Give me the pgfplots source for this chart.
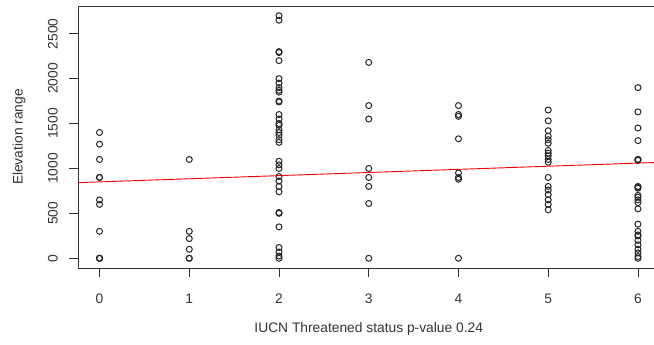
\documentclass[border=0pt]{standalone}
\usepackage{pgfplots}
\pgfplotsset{compat=1.18}
\usepackage{fontspec}
\setmainfont{Liberation Sans}
\begin{document}
\fontsize{13.8bp}{16bp}\selectfont
\begin{tikzpicture}
\begin{axis}[
  scale only axis, width=581.5bp, height=262bp,
  xmin=-0.24, xmax=6.24, ymin=-108, ymax=2808,
  axis line style={draw=black!80, line width=0.8bp},
  tick pos=left, tick align=outside,
  major tick length=9bp,
  every tick/.style={draw=black!80, line width=0.8bp},
  xtick={0,1,2,3,4,5,6},
  ytick={0,500,1000,1500,2000,2500},
  /pgf/number format/assume math mode=true,
  /pgf/number format/1000 sep={},
  tick label style={font=\fontsize{13.8bp}{16bp}\selectfont, text=black!80},
  yticklabel style={rotate=90, anchor=south, inner sep=0pt, yshift=11bp},
  xticklabel style={anchor=north, inner sep=0pt, yshift=-17bp},
  xlabel={IUCN Threatened status p-value 0.24},
  label style={font=\fontsize{13.8bp}{16bp}\selectfont, text=black!80},
  xlabel style={at={(axis description cs:0.5,-0.233)}, anchor=center},
  clip=false,
]
\addplot[only marks, mark=o, mark size=3bp, draw=black!85, line width=1bp] table {
x y
0 1400
0 1270
0 1100
0 900
0 900
0 650
0 600
0 300
0 0
0 0
0 0
1 1100
1 300
1 220
1 100
1 0
1 0
2 2700
2 2650
2 2300
2 2290
2 2200
2 2000
2 1950
2 1900
2 1870
2 1850
2 1750
2 1740
2 1600
2 1550
2 1500
2 1480
2 1430
2 1400
2 1370
2 1320
2 1290
2 1080
2 1040
2 1000
2 910
2 860
2 800
2 740
2 510
2 500
2 350
2 120
2 70
2 25
2 0
3 2180
3 1700
3 1550
3 1000
3 900
3 800
3 610
3 0
4 1700
4 1600
4 1580
4 1330
4 950
4 900
4 880
4 0
5 1650
5 1530
5 1420
5 1360
5 1320
5 1280
5 1200
5 1170
5 1140
5 1100
5 1070
5 900
5 800
5 760
5 710
5 650
5 600
5 540
6 1900
6 1630
6 1450
6 1310
6 1100
6 1100
6 1090
6 800
6 790
6 780
6 700
6 680
6 650
6 620
6 550
6 380
6 300
6 260
6 250
6 200
6 150
6 100
6 60
6 20
6 0
};
\addplot[red, line width=0.9bp] coordinates {(-0.24,842) (6.24,1068)};
\node[rotate=90, anchor=center, font=\fontsize{13.8bp}{16bp}\selectfont, text=black!80] at (axis description cs:-0.1015,0.5) {Elevation range};
\end{axis}
\pgfresetboundingbox
\useasboundingbox (current axis.south west) ++(-78bp,-77bp) rectangle ++(654bp,345bp);
\end{tikzpicture}
\end{document}
